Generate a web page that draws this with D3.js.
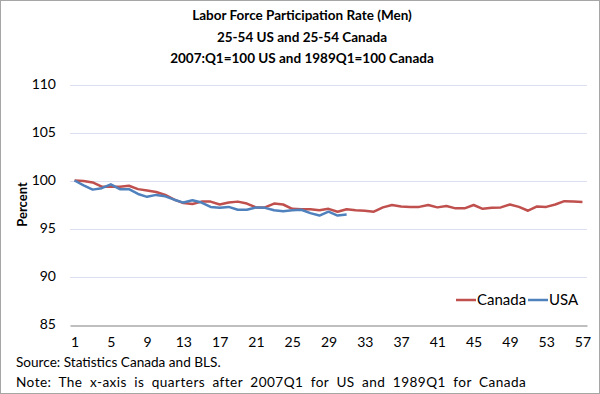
<!DOCTYPE html>
<meta charset="utf-8">
<title>Labor Force Participation Rate (Men)</title>
<style>
body {
  margin: 0px;
  font-family: Lato, "Open Sans", sans-serif;
}
svg {
  background-color: #ffffff;
}
</style>
<body>
<script src="https://cdnjs.cloudflare.com/ajax/libs/d3/7.8.5/d3.min.js"></script>
<script>

// quarter numbers on the x axis (1..57), every 4th one gets a label
var quarters = d3.range(1, 58);
var tickQuarters = [1, 5, 9, 13, 17, 21, 25, 29, 33, 37, 41, 45, 49, 53, 57];
var yTicks = [85, 90, 95, 100, 105, 110];

var canada = [100, 99.95, 99.8, 99.35, 99.35, 99.35, 99.45, 99.1, 98.95, 98.8,
  98.5, 98.0, 97.65, 97.55, 97.8, 97.8, 97.5, 97.7, 97.8, 97.6,
  97.2, 97.2, 97.6, 97.5, 97.05, 97.0, 97.0, 96.9, 97.05, 96.75,
  97.0, 96.9, 96.85, 96.75, 97.2, 97.45, 97.3, 97.25, 97.25, 97.45,
  97.2, 97.35, 97.1, 97.1, 97.45, 97.05, 97.15, 97.2, 97.5, 97.25,
  96.85, 97.3, 97.25, 97.5, 97.85, 97.8, 97.75];

var usa = [100, 99.5, 99.05, 99.2, 99.6, 99.1, 99.1, 98.6, 98.3, 98.5,
  98.35, 98.0, 97.7, 97.95, 97.7, 97.25, 97.15, 97.25, 96.95, 96.95,
  97.2, 97.15, 96.9, 96.8, 96.9, 96.95, 96.6, 96.35, 96.75, 96.35,
  96.45];

var titleLines = ["Labor Force Participation Rate (Men)",
  "25-54 US and 25-54 Canada",
  "2007:Q1=100 US and 1989Q1=100 Canada"];

var width = 600, height = 394;
var plot = {left: 70, right: 587, top: 84.5, bottom: 324.5};

var svg = d3.select("body").append("svg")
    .attr("width", width)
    .attr("height", height);

// outer frame
svg.append("rect")
    .attr("x", 0.5).attr("y", 0.5)
    .attr("width", width - 1).attr("height", height - 1)
    .attr("fill", "#fff")
    .attr("stroke", "#a6a6a6");

var x = d3.scalePoint()
    .domain(quarters)
    .range([plot.left, plot.right])
    .padding(0.5);

var y = d3.scaleLinear()
    .domain([85, 110])
    .range([plot.bottom, plot.top]);

// gridlines
svg.append("g")
  .selectAll("line")
  .data(yTicks.filter(function(d) { return d > 85; }))
  .enter().append("line")
    .attr("x1", plot.left).attr("x2", plot.right)
    .attr("y1", function(d) { return Math.round(y(d)) + 0.5; })
    .attr("y2", function(d) { return Math.round(y(d)) + 0.5; })
    .attr("stroke", "#dcdff0")
    .attr("stroke-width", 1);

// y axis labels
var yAxis = svg.append("g")
    .attr("transform", "translate(" + plot.left + ",0)")
    .call(d3.axisLeft(y).tickValues(yTicks).tickSize(0).tickPadding(14));
yAxis.select(".domain").remove();
yAxis.selectAll("text")
    .attr("font-family", "Lato, sans-serif")
    .attr("font-size", 14)
    .attr("fill", "#000");

// x axis
var xAxis = svg.append("g")
    .attr("transform", "translate(0," + (Math.round(y(85)) + 0.5) + ")")
    .call(d3.axisBottom(x).tickValues(tickQuarters).tickSize(0).tickPadding(12));
xAxis.select(".domain")
    .attr("stroke", "#bfbfbf")
    .attr("stroke-width", 2);
xAxis.selectAll("text")
    .attr("font-family", "Lato, sans-serif")
    .attr("font-size", 14)
    .attr("fill", "#000");

// y axis title
svg.append("text")
    .attr("transform", "translate(27," + ((plot.top + plot.bottom) / 2) + ") rotate(-90)")
    .attr("text-anchor", "middle")
    .attr("font-size", 13)
    .attr("font-weight", "bold")
    .text("Percent");

// title
svg.append("g")
  .selectAll("text")
  .data(titleLines)
  .enter().append("text")
    .attr("x", width / 2 + 2)
    .attr("y", function(d, i) { return 20 + i * 21.5; })
    .attr("text-anchor", "middle")
    .attr("font-size", 13.5)
    .attr("font-weight", "bold")
    .text(function(d) { return d; });

var line = d3.line()
    .x(function(d, i) { return x(quarters[i]); })
    .y(function(d) { return y(d); });

var series = [
  {name: "Canada", values: canada, color: "#c0504d"},
  {name: "USA", values: usa, color: "#4f81bd"}
];

svg.append("g")
  .selectAll("path")
  .data(series)
  .enter().append("path")
    .attr("d", function(d) { return line(d.values); })
    .attr("fill", "none")
    .attr("stroke", function(d) { return d.color; })
    .attr("stroke-width", 2.5)
    .attr("stroke-linejoin", "round");

// legend
var legendX = [456, 528];
var legend = svg.append("g")
  .selectAll("g")
  .data(series)
  .enter().append("g")
    .attr("transform", function(d, i) { return "translate(" + legendX[i] + ",300)"; });
legend.append("line")
    .attr("x1", 0).attr("x2", 20)
    .attr("stroke", function(d) { return d.color; })
    .attr("stroke-width", 2.5);
legend.append("text")
    .attr("x", 21)
    .attr("dy", "0.35em")
    .attr("font-size", 15)
    .text(function(d) { return d.name; });

// notes
svg.append("text")
    .attr("x", 16).attr("y", 367)
    .attr("font-size", 13.6)
    .text("Source: Statistics Canada and BLS.");
svg.append("text")
    .attr("x", 16).attr("y", 387)
    .attr("font-size", 13.6)
    .style("letter-spacing", "0.45px")
    .style("word-spacing", "3.5px")
    .text("Note: The x-axis is quarters after 2007Q1 for US and 1989Q1 for Canada");

</script>
</body>
